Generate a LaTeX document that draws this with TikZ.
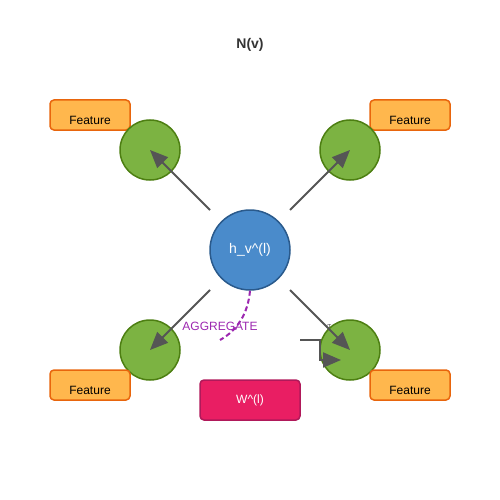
\documentclass[tikz,border=0pt]{standalone}
\usepackage{fontspec}
\setmainfont{Liberation Sans}
\usetikzlibrary{positioning,arrows.meta}
\definecolor{featfill}{HTML}{FFB74D}
\definecolor{featline}{HTML}{E8650C}
\definecolor{nbfill}{HTML}{7CB342}
\definecolor{nbline}{HTML}{4D7F12}
\definecolor{cfill}{HTML}{4A8BCB}
\definecolor{cline}{HTML}{2A5A8C}
\definecolor{wfill}{HTML}{E91E63}
\definecolor{wline}{HTML}{B0195A}
\definecolor{aggcol}{HTML}{9C27B0}
\definecolor{arrcol}{HTML}{555555}
\tikzset{
  feature/.style={draw=featline, fill=featfill, line width=1.5pt, rounded corners=4pt,
    minimum width=80pt, minimum height=30pt, inner sep=0pt,
    label={[yshift=-5pt, font=\fontsize{12pt}{12pt}\selectfont]center:Feature}},
  neighbour/.style={circle, draw=nbline, fill=nbfill, line width=1.5pt, minimum size=60pt, inner sep=0pt},
  msg/.style={draw=arrcol, line width=2pt, -{Triangle[length=18pt,width=15pt]}}
}

\begin{document}
\begin{tikzpicture}[x=1pt, y=-1pt]
\useasboundingbox (0,0) rectangle (500,500);
\node[font=\bfseries\fontsize{14pt}{14pt}\selectfont, text=black!80] (title) at (250,45) {N(v)};
% top features
\node[feature] (feat_nw) at (90,115) {};
\node[feature] (feat_ne) at (410,115) {};
\node[text=arrcol, font=\fontsize{9pt}{9pt}\selectfont] (sig) at (329,327) {$\sigma$};
% neighbours
\node[neighbour] (node_nw) at (150,150) {};
\node[neighbour] (node_ne) at (350,150) {};
\node[neighbour] (node_sw) at (150,350) {};
\node[neighbour] (node_se) at (350,350) {};
\node[feature] (feat_sw) at (90,385) {};
\node[feature] (feat_se) at (410,385) {};
\node[circle, draw=cline, fill=cfill, line width=1.5pt, minimum size=80pt, inner sep=0pt,
  text=white, font=\fontsize{14pt}{14pt}\selectfont] (node_v) at (250,250) {h\_v\^{}(l)};
\node[draw=wline, fill=wfill, line width=1.5pt, rounded corners=4pt, minimum width=100pt,
  minimum height=40pt, text=white, font=\fontsize{12pt}{12pt}\selectfont] (node_w) at (250,400) {W\^{}(l)};
\node[text=aggcol, font=\fontsize{12pt}{12pt}\selectfont] (agg) at (220,326) {AGGREGATE};
% messages
\coordinate (out_nw) at (210,210);
\coordinate (out_ne) at (290,210);
\coordinate (out_sw) at (210,290);
\coordinate (out_se) at (290,290);
\draw[msg] (out_nw) -- (node_nw.center);
\draw[msg] (out_ne) -- (node_ne.center);
\draw[msg] (out_sw) -- (node_sw.center);
\draw[msg] (out_se) -- (node_se.center);
\coordinate (agg_end) at (220,340);
\draw[aggcol, line width=2pt, dash pattern=on 5pt off 3pt]
  (node_v.south) .. controls (248,313) and (238,330) .. (agg_end);
\coordinate (upd_a) at (300,340);
\coordinate (upd_b) at (320,340);
\coordinate (upd_c) at (320,360);
\coordinate (upd_d) at (341,360);
\draw[msg] (upd_a) -- (upd_b) -- (upd_c) -- (upd_d);
\end{tikzpicture}
\end{document}
